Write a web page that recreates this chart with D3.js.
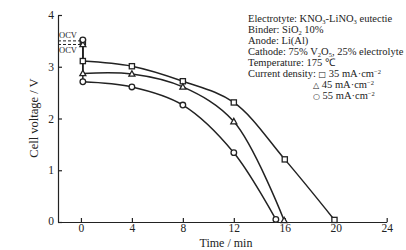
<!DOCTYPE html>
<html>
<head>
<meta charset="utf-8">
<script src="https://cdn.jsdelivr.net/npm/d3@7"></script>
<style>
  body { margin: 0; background: #fff; }
</style>
</head>
<body>
<svg id="svg" width="406" height="250"></svg>
<script>
// discharge curves, time in min, voltage in V
const ocvTime = 0.15
const time35 = [0.15, 4, 8, 12, 16, 19.9]
const volt35 = [3.11, 3.01, 2.72, 2.31, 1.21, 0.04]
const time45 = [0.15, 4, 8, 12, 15.95]
const volt45 = [2.87, 2.86, 2.61, 1.94, 0.03]
const time55 = [0.15, 4, 8, 12, 15.3]
const volt55 = [2.71, 2.61, 2.26, 1.34, 0.05]
const ocv35 = 3.48
const ocv45 = 3.43
const ocv55 = 3.52
const ocvLines = [3.50, 3.43]

const xTicks = [0, 4, 8, 12, 16, 20, 24]
const yTicks = [0, 1, 2, 3, 4]

const series = [
  { t: time35, v: volt35, ocv: ocv35, shape: 'square' },
  { t: time45, v: volt45, ocv: ocv45, shape: 'triangle' },
  { t: time55, v: volt55, ocv: ocv55, shape: 'circle' }
]

const serif = '"Liberation Serif", "Times New Roman", serif'
const ink = '#222'

const svg = d3.select('#svg').style('font-family', serif)

const x = d3.scaleLinear().domain([-1.8, 24]).range([58, 386.7])
const y = d3.scaleLinear().domain([0, 4]).range([222, 15])

// axes
const xAxis = d3.axisBottom(x).tickValues(xTicks).tickFormat(d3.format('d'))
  .tickSizeInner(-4).tickSizeOuter(0).tickPadding(2)
const yAxis = d3.axisLeft(y).tickValues(yTicks).tickFormat(d3.format('d'))
  .tickSizeInner(-4).tickSizeOuter(0).tickPadding(4)

const gx = svg.append('g').attr('transform', 'translate(0,222)').call(xAxis)
const gy = svg.append('g').attr('transform', 'translate(58,0)').call(yAxis)
;[gx, gy].forEach(g => {
  g.attr('font-family', null)
  g.select('.domain').attr('stroke', ink).attr('stroke-width', 1.2)
  g.selectAll('.tick line').attr('stroke', ink).attr('stroke-width', 1.2)
  g.selectAll('.tick text').style('font-family', serif).style('font-size', '11.5px').attr('fill', ink)
})
gy.selectAll('.tick text').filter(d => d === 0).attr('dy', '0.2em')

svg.append('text').attr('x', 226).attr('y', 246.5).attr('text-anchor', 'middle')
  .style('font-family', serif).style('font-size', '12px').attr('fill', ink).text('Time / min')
svg.append('text').attr('transform', 'translate(38,118) rotate(-90)').attr('text-anchor', 'middle')
  .style('font-family', serif).style('font-size', '12.5px').attr('fill', ink).text('Cell voltage / V')

// OCV dashed lines
svg.selectAll('.ocv').data(ocvLines).enter().append('line')
  .attr('x1', 58).attr('x2', x(ocvTime))
  .attr('y1', d => y(d)).attr('y2', d => y(d))
  .attr('stroke', ink).attr('stroke-width', 1).attr('stroke-dasharray', '3,2')
svg.append('text').attr('x', 59).attr('y', y(ocvLines[0]) - 2.5)
  .style('font-family', serif).style('font-size', '8.5px').attr('fill', ink).text('OCV')
svg.append('text').attr('x', 59).attr('y', y(ocvLines[1]) + 8.5)
  .style('font-family', serif).style('font-size', '8.5px').attr('fill', ink).text('OCV')

const line = d3.line().x(d => x(d[0])).y(d => y(d[1])).curve(d3.curveCatmullRom.alpha(0.5))

series.forEach(s => {
  const pts = s.t.map((t, i) => [t, s.v[i]])
  // vertical drop from OCV
  svg.append('line')
    .attr('x1', x(ocvTime)).attr('x2', x(s.t[0]))
    .attr('y1', y(s.ocv)).attr('y2', y(s.v[0]))
    .attr('stroke', ink).attr('stroke-width', 1.5)
  svg.append('path').datum(pts).attr('d', line)
    .attr('fill', 'none').attr('stroke', ink).attr('stroke-width', 1.5)
})

function marker(g, shape, cx, cy) {
  if (shape === 'square') {
    g.append('rect').attr('x', cx - 2.6).attr('y', cy - 2.6).attr('width', 5.2).attr('height', 5.2)
      .attr('fill', '#fff').attr('stroke', ink).attr('stroke-width', 1.3)
  } else if (shape === 'triangle') {
    const p = d3.path(); p.moveTo(cx, cy - 3.2); p.lineTo(cx + 3, cy + 2.2); p.lineTo(cx - 3, cy + 2.2); p.closePath()
    g.append('path').attr('d', p.toString())
      .attr('fill', '#fff').attr('stroke', ink).attr('stroke-width', 1.3)
  } else {
    g.append('circle').attr('cx', cx).attr('cy', cy).attr('r', 2.8)
      .attr('fill', '#fff').attr('stroke', ink).attr('stroke-width', 1.3)
  }
}

const marks = svg.append('g')
series.forEach(s => {
  marker(marks, s.shape, x(ocvTime), y(s.ocv))
  s.t.forEach((t, i) => marker(marks, s.shape, x(t), y(s.v[i])))
})

// annotation block
const lines = [
  [['Electrotyte: KNO'], ['3', 'sub'], ['-LiNO'], ['3', 'sub'], [' eutectie']],
  [['Binder: SiO'], ['2', 'sub'], [' 10%']],
  [['Anode: Li(Al)']],
  [['Cathode: 75% V'], ['2', 'sub'], ['O'], ['5', 'sub'], [', 25% electrolyte']],
  [['Temperature: 175 \u2103']],
  [['Current density: '], ['\u25A1', 'sym'], [' 35 mA\u00B7cm'], ['\u22122', 'sup']],
  [['\u25B3', 'sym'], [' 45 mA\u00B7cm'], ['\u22122', 'sup']],
  [['\u25CB', 'sym'], [' 55 mA\u00B7cm'], ['\u22122', 'sup']]
]
const note = svg.append('g')
lines.forEach((parts, i) => {
  const t = note.append('text').attr('x', i >= 6 ? 313 : 248).attr('y', 21.5 + i * 11.1)
    .style('font-family', serif).style('font-size', '10.5px').attr('fill', ink)
  parts.forEach(([str, kind]) => {
    const ts = t.append('tspan').text(str)
    if (kind === 'sub') ts.attr('baseline-shift', '-25%').style('font-size', '6.5px')
    if (kind === 'sup') ts.attr('baseline-shift', '40%').style('font-size', '6.5px')
    if (kind === 'sym') ts.style('font-size', '8px').style('font-family', '"DejaVu Sans", sans-serif')
  })
})
</script>
</body>
</html>
